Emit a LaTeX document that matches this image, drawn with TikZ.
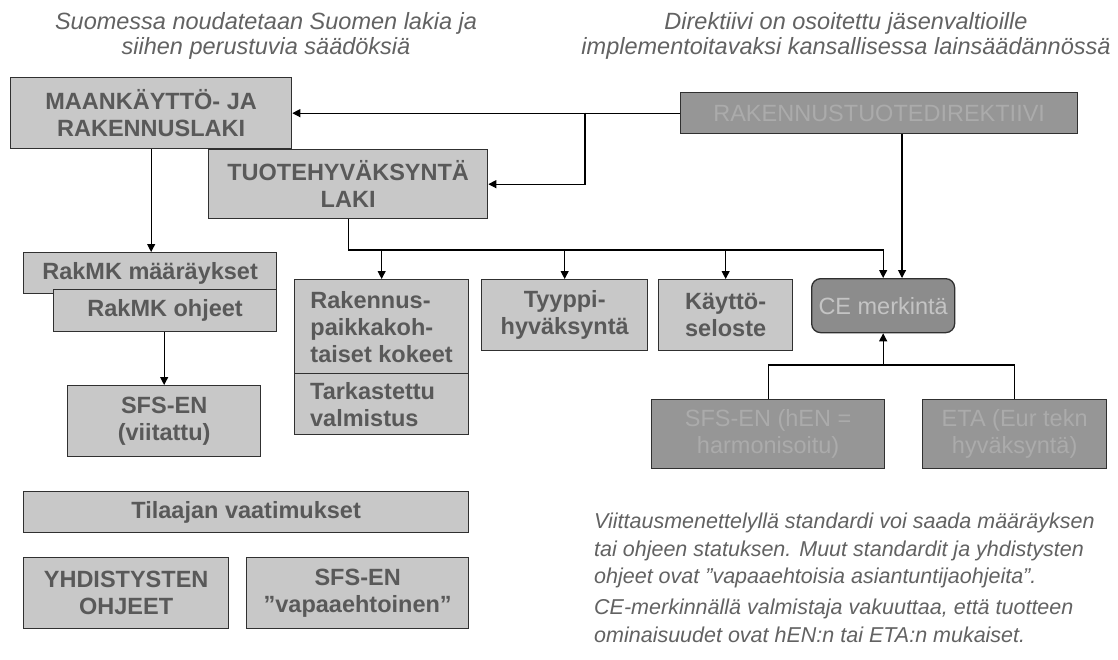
\documentclass[tikz,border=0pt]{standalone}
\usepackage{fontspec}
\setmainfont{Liberation Sans}
\usetikzlibrary{arrows.meta}
\definecolor{boxfill}{HTML}{C8C8C8}
\definecolor{boxtext}{HTML}{595959}
\definecolor{darkfill}{HTML}{969696}
\definecolor{darktext}{HTML}{ABABAB}
\definecolor{cefill}{HTML}{8C8C8C}
\definecolor{cetext}{HTML}{C4C4C4}
\definecolor{captext}{HTML}{626262}
\definecolor{edge}{HTML}{303030}
\begin{document}
\begin{tikzpicture}[x=1pt,y=-1pt,
  lbox/.style={draw=edge, line width=1.3pt, fill=boxfill, text=boxtext,
    font=\fontsize{23.5}{27}\selectfont\bfseries, align=center, inner sep=0pt, anchor=north west},
  dbox/.style={draw=edge, line width=1.3pt, fill=darkfill, text=darktext,
    font=\fontsize{23.5}{27}\selectfont, align=center, inner sep=0pt, anchor=north west},
  conn/.style={line width=1.1pt, draw=black},
  arr/.style={conn, -{Triangle[length=8pt,width=8pt]}},
  captxt/.style={text=captext, font=\fontsize{23.5}{25}\selectfont\itshape, inner sep=0pt},
  notetxt/.style={text=captext, font=\fontsize{21.5}{27.5}\selectfont\itshape, inner sep=0pt},
]
\useasboundingbox[fill=white] (0,0) rectangle (1118,659);

% captions
\node[captxt, align=center, anchor=north] (capl) at (266,12) {Suomessa noudatetaan Suomen lakia ja\\siihen perustuvia säädöksiä};
\node[captxt, align=center, anchor=north] (capr) at (846,12) {Direktiivi on osoitettu jäsenvaltioille\\implementoitavaksi kansallisessa lainsäädännössä};

% boxes
\node[lbox, minimum width=281pt, minimum height=71pt] (maa) at (10,77) {MAANKÄYTTÖ- JA\\RAKENNUSLAKI};
\node[lbox, minimum width=279pt, minimum height=69pt] (tuo) at (208,149) {TUOTEHYVÄKSYNTÄ\\LAKI};
\node[dbox, minimum width=397pt, minimum height=41pt] (rtd) at (680,92) {RAKENNUSTUOTEDIREKTIIVI};

\node[lbox, minimum width=253pt, minimum height=41pt] (rm) at (23,252) {RakMK määräykset};
\node[lbox, minimum width=223pt, minimum height=42pt] (ro) at (53,289) {RakMK ohjeet};
\node[lbox, minimum width=193pt, minimum height=71pt] (sfsv) at (67,385) {SFS-EN\\(viitattu)};

\node[lbox, minimum width=174pt, minimum height=94pt, align=left] (rak) at (294,279) {Rakennus-\\paikkakoh-\\taiset kokeet};
\node[lbox, minimum width=174pt, minimum height=61pt, align=left, text width=143pt] (tark) at (294,373) {Tarkastettu\\valmistus};
\node[lbox, minimum width=166pt, minimum height=71pt] (tyy) at (481,279) {Tyyppi-\\hyväksyntä};
\node[lbox, minimum width=134pt, minimum height=71pt] (kay) at (658,279) {Käyttö-\\seloste};
\node[dbox, fill=cefill, text=cetext, rounded corners=9pt, minimum width=143pt, minimum height=54pt] (ce) at (811,278) {CE merkintä};

\node[dbox, minimum width=233pt, minimum height=69pt] (hen) at (651,399) {SFS-EN (hEN =\\harmonisoitu)};
\node[dbox, minimum width=184pt, minimum height=69pt] (eta) at (922,399) {ETA (Eur tekn\\hyväksyntä)};

\node[lbox, minimum width=445pt, minimum height=41pt] (til) at (23,491) {Tilaajan vaatimukset};
\node[lbox, minimum width=205pt, minimum height=71pt] (yhd) at (23,557) {YHDISTYSTEN\\OHJEET};
\node[lbox, minimum width=222pt, minimum height=71pt] (sfsva) at (246,557) {SFS-EN\\”vapaaehtoinen”};

% notes
\node[notetxt, align=left, anchor=north west] (note1) at (594,513) {Viittausmenettelyllä standardi voi saada määräyksen\\tai ohjeen statuksen. Muut standardit ja yhdistysten\\ohjeet ovat ”vapaaehtoisia asiantuntijaohjeita”.};
\node[notetxt, align=left, anchor=north west] (note2) at (594,599) {CE-merkinnällä valmistaja vakuuttaa, että tuotteen\\ominaisuudet ovat hEN:n tai ETA:n mukaiset.};

% connectors
\coordinate (split) at (585,112.5);
\draw[arr] (rtd.west) -- (maa.east);
\draw[arr] (split) |- (tuo.east);
\draw[arr] (maa.south) -- (maa.south |- rm.north);
\draw[arr] (tuo.south) |- (ce.north |- 0,250) -- (ce.north);
\draw[arr] (rak.north |- 0,250) -- (rak.north);
\draw[arr] (tyy.north |- 0,250) -- (tyy.north);
\draw[arr] (kay.north |- 0,250) -- (kay.north);
\draw[arr] (rtd.south -| 902,0) -- (ce.north -| 902,0);
\draw[arr] (ro.south -| sfsv.north) -- (sfsv.north);
\draw[conn] (hen.north) |- (eta.north |- 0,365) -- (eta.north);
\draw[arr] (ce.south |- 0,365) -- (ce.south);
\end{tikzpicture}
\end{document}
